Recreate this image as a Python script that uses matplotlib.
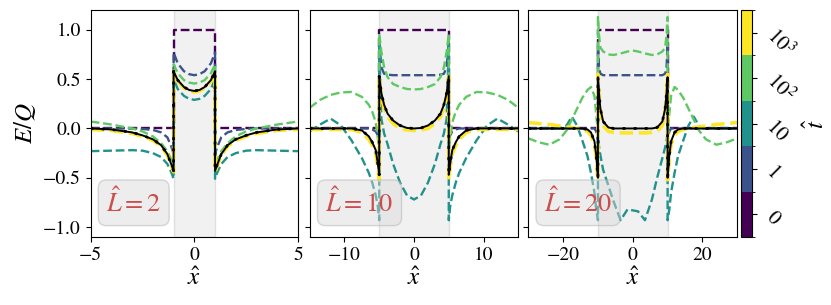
import numpy as np
import matplotlib
matplotlib.use("Agg")
import matplotlib.pyplot as plt
from matplotlib.colors import ListedColormap, BoundaryNorm
from matplotlib.cm import ScalarMappable

plt.rcParams["font.family"] = "STIXGeneral"
plt.rcParams["mathtext.fontset"] = "stix"

# time labels for the colorbar
t_labels = ["$0$", "$1$", "$10$", "$10^2$", "$10^3$"]

# ---- panel L=2 ----
L1 = 2
x1 = [-5, -4, -3, -2.5, -2, -1.6, -1.3, -1.1, -1,
      -1, -0.8, -0.5, -0.25, 0, 0.25, 0.5, 0.8, 1,
      1, 1.1, 1.3, 1.6, 2, 2.5, 3, 4, 5]
p1_t0 = [0, 0, 0, 0, 0, 0, 0, 0, 0,
         1, 1, 1, 1, 1, 1, 1, 1, 1,
         0, 0, 0, 0, 0, 0, 0, 0, 0]
p1_t1 = [0, 0, 0, -0.005, -0.015, -0.04, -0.09, -0.19, -0.26,
         0.77, 0.66, 0.58, 0.55, 0.54, 0.55, 0.58, 0.66, 0.77,
         -0.26, -0.19, -0.09, -0.04, -0.015, -0.005, 0, 0, 0]
p1_t10 = [-0.23, -0.225, -0.22, -0.225, -0.25, -0.29, -0.36, -0.45, -0.51,
          0.50, 0.40, 0.33, 0.30, 0.29, 0.30, 0.33, 0.40, 0.50,
          -0.51, -0.45, -0.36, -0.29, -0.25, -0.225, -0.22, -0.225, -0.23]
p1_t100 = [0.07, 0.04, 0.0, -0.03, -0.08, -0.15, -0.23, -0.32, -0.37,
           0.65, 0.56, 0.49, 0.465, 0.455, 0.465, 0.49, 0.56, 0.65,
           -0.37, -0.32, -0.23, -0.15, -0.08, -0.03, 0.0, 0.04, 0.07]
p1_t1000 = [-0.01, -0.02, -0.05, -0.08, -0.12, -0.18, -0.27, -0.38, -0.44,
            0.57, 0.48, 0.41, 0.38, 0.37, 0.38, 0.41, 0.48, 0.57,
            -0.44, -0.38, -0.27, -0.18, -0.12, -0.08, -0.05, -0.02, -0.01]
p1_ss = [0.0, -0.01, -0.04, -0.07, -0.11, -0.17, -0.26, -0.37, -0.43,
         0.58, 0.49, 0.42, 0.39, 0.38, 0.39, 0.42, 0.49, 0.58,
         -0.43, -0.37, -0.26, -0.17, -0.11, -0.07, -0.04, -0.01, 0.0]

# ---- panel L=10 ----
L2 = 10
x2 = [-15, -13.5, -12, -10.5, -9, -7.5, -6.5, -6, -5.5, -5.2, -5,
      -5, -4.7, -4.3, -3.8, -3, -2, -1, 0, 1, 2, 3, 3.8, 4.3, 4.7, 5,
      5, 5.2, 5.5, 6, 6.5, 7.5, 9, 10.5, 12, 13.5, 15]
p2_t0 = [0, 0, 0, 0, 0, 0, 0, 0, 0, 0, 0,
         1, 1, 1, 1, 1, 1, 1, 1, 1, 1, 1, 1, 1, 1, 1,
         0, 0, 0, 0, 0, 0, 0, 0, 0, 0, 0]
p2_t1 = [0, 0, 0, 0, 0, 0, 0, -0.01, -0.03, -0.07, -0.12,
         0.88, 0.62, 0.555, 0.545, 0.54, 0.54, 0.54, 0.54, 0.54, 0.54, 0.54, 0.545, 0.555, 0.62, 0.88,
         -0.12, -0.07, -0.03, -0.01, 0, 0, 0, 0, 0, 0, 0]
p2_t10 = [-0.03, 0.04, 0.10, 0.03, -0.12, -0.30, -0.45, -0.55, -0.68, -0.79, -0.93,
          0.85, 0.10, -0.05, -0.16, -0.36, -0.55, -0.68, -0.72, -0.68, -0.55, -0.36, -0.16, -0.05, 0.10, 0.85,
          -0.93, -0.79, -0.68, -0.55, -0.45, -0.30, -0.12, 0.03, 0.10, 0.04, -0.03]
p2_t100 = [0.21, 0.29, 0.34, 0.365, 0.37, 0.32, 0.24, 0.17, 0.06, -0.10, -0.25,
           0.96, 0.78, 0.62, 0.52, 0.45, 0.42, 0.40, 0.395, 0.40, 0.42, 0.45, 0.52, 0.62, 0.78, 0.96,
           -0.25, -0.10, 0.06, 0.17, 0.24, 0.32, 0.37, 0.365, 0.34, 0.29, 0.21]
p2_t1000 = [-0.01, -0.01, -0.01, -0.01, -0.01, -0.04, -0.11, -0.17, -0.26, -0.39, -0.52,
            0.52, 0.33, 0.21, 0.12, 0.05, 0.0, -0.015, -0.02, -0.015, 0.0, 0.05, 0.12, 0.21, 0.33, 0.52,
            -0.52, -0.39, -0.26, -0.17, -0.11, -0.04, -0.01, -0.01, -0.01, -0.01, -0.01]
p2_ss = [0, 0, 0, 0, 0, -0.02, -0.08, -0.14, -0.22, -0.36, -0.47,
         0.53, 0.36, 0.24, 0.15, 0.08, 0.03, 0.005, 0.0, 0.005, 0.03, 0.08, 0.15, 0.24, 0.36, 0.53,
         -0.47, -0.36, -0.22, -0.14, -0.08, -0.02, 0, 0, 0, 0, 0]

# ---- panel L=20 ----
L3 = 20
x3 = [-30, -27, -24, -21, -19, -17.5, -16, -14.5, -13, -12, -11, -10.5, -10,
      -10, -9.7, -9.3, -8.5, -7, -5.5, -3.5, -1.5, 0, 1.5, 3.5, 5.5, 7, 8.5, 9.3, 9.7, 10,
      10, 10.5, 11, 12, 13, 14.5, 16, 17.5, 19, 21, 24, 27, 30]
p3_t0 = [0, 0, 0, 0, 0, 0, 0, 0, 0, 0, 0, 0, 0,
         1, 1, 1, 1, 1, 1, 1, 1, 1, 1, 1, 1, 1, 1, 1, 1, 1,
         0, 0, 0, 0, 0, 0, 0, 0, 0, 0, 0, 0, 0]
p3_t1 = [0, 0, 0, 0, 0, 0, 0, 0, 0, 0, 0, -0.03, -0.12,
         0.85, 0.62, 0.555, 0.54, 0.54, 0.54, 0.54, 0.54, 0.54, 0.54, 0.54, 0.54, 0.54, 0.54, 0.555, 0.62, 0.85,
         -0.12, -0.03, 0, 0, 0, 0, 0, 0, 0, 0, 0, 0, 0]
p3_t10 = [0, 0, 0, 0, 0.03, 0.12, 0.03, -0.12, -0.28, -0.45, -0.65, -0.82, -0.93,
          -0.05, -0.18, -0.27, -0.42, -0.58, -0.74, -0.93, -0.82, -0.83, -0.84, -0.93, -0.72, -0.50, -0.30, -0.19, -0.12, -0.05,
          -0.93, -0.82, -0.65, -0.45, -0.28, -0.12, 0.03, 0.12, 0.03, 0, 0, 0, 0]
p3_t100 = [-0.10, -0.14, -0.165, -0.11, -0.02, 0.09, 0.20, 0.31, 0.39, 0.42, 0.33, 0.15, -0.05,
           1.13, 0.95, 0.82, 0.78, 0.75, 0.745, 0.76, 0.78, 0.79, 0.78, 0.76, 0.745, 0.75, 0.78, 0.82, 0.95, 1.13,
           -0.05, 0.15, 0.33, 0.42, 0.39, 0.31, 0.20, 0.09, -0.02, -0.11, -0.165, -0.14, -0.10]
p3_t1000 = [0.06, 0.05, 0.04, 0.025, 0.015, 0.01, 0.0, -0.01, -0.03, -0.07, -0.16, -0.30, -0.52,
            0.55, 0.35, 0.18, 0.03, -0.03, -0.04, -0.045, -0.045, -0.045, -0.045, -0.045, -0.04, -0.03, 0.03, 0.18, 0.35, 0.55,
            -0.52, -0.30, -0.16, -0.07, -0.03, -0.01, 0.0, 0.01, 0.015, 0.025, 0.04, 0.05, 0.06]
p3_ss = [0, 0, 0, 0, 0, 0, 0, 0, -0.01, -0.04, -0.13, -0.27, -0.50,
         0.52, 0.36, 0.20, 0.07, 0.01, 0, 0, 0, 0, 0, 0, 0, 0.01, 0.07, 0.20, 0.36, 0.52,
         -0.50, -0.27, -0.13, -0.04, -0.01, 0, 0, 0, 0, 0, 0, 0, 0]

panels = [
    (L1, x1, [p1_t0, p1_t1, p1_t10, p1_t100, p1_t1000], p1_ss, (-5, 5), [-5, 0, 5]),
    (L2, x2, [p2_t0, p2_t1, p2_t10, p2_t100, p2_t1000], p2_ss, (-15, 15), [-10, 0, 10]),
    (L3, x3, [p3_t0, p3_t1, p3_t10, p3_t100, p3_t1000], p3_ss, (-30, 30), [-20, 0, 20]),
]

colors = plt.cm.viridis(np.linspace(0, 1, 5))

fig = plt.figure(figsize=(8.31, 3.05), dpi=100)
lefts = [0.1091, 0.3727, 0.6357]
widths = [0.2495, 0.2510, 0.2515]
bottom, height = 0.223, 0.744

for i, (L, x, curves, ss, xlim, xticks) in enumerate(panels):
    ax = fig.add_axes([lefts[i], bottom, widths[i], height])
    ax.axvspan(-L / 2, L / 2, facecolor=(0.85, 0.85, 0.85, 0.35),
               edgecolor=(0.6, 0.6, 0.6, 0.25), lw=1, zorder=0)
    for k, y in enumerate(curves):
        lw = 2.6 if k == 4 else 1.7
        ax.plot(x, y, "--", color=colors[k], lw=lw, zorder=2)
    # steady state: solid line with sparse dots on top
    ax.plot(x, ss, "-", color="black", lw=1.4, zorder=3)
    ax.plot(x, ss, linestyle=(0, (1, 3)), color="black", lw=2.0, zorder=4)
    ax.set_xlim(*xlim)
    ax.set_ylim(-1.1, 1.2)
    ax.set_xticks(xticks)
    ax.set_yticks([-1.0, -0.5, 0.0, 0.5, 1.0])
    ax.tick_params(labelsize=14)
    ax.set_xlabel(r"$\hat{x}$", fontsize=18, labelpad=2)
    if i == 0:
        ax.set_ylabel(r"$E/Q$", fontsize=18, labelpad=4)
    else:
        ax.set_yticklabels([])
    ax.text(0.075, 0.085, r"$\hat{L}=%d$" % L, transform=ax.transAxes,
            fontsize=19, color="#cc4d4d", ha="left", va="bottom", zorder=6,
            bbox=dict(boxstyle="round,pad=0.3", facecolor=(0.85, 0.85, 0.85, 0.45),
                      edgecolor=(0.7, 0.7, 0.7, 0.5)))

cax = fig.add_axes([0.8917, bottom, 0.0138, height])
cmap = ListedColormap(colors)
norm = BoundaryNorm([0, 1, 2, 3, 4, 5], cmap.N)
cbar = fig.colorbar(ScalarMappable(norm=norm, cmap=cmap), cax=cax,
                    ticks=[0.5, 1.5, 2.5, 3.5, 4.5])
cbar.set_ticklabels(t_labels)
cbar.ax.tick_params(labelsize=15)
for lab in cbar.ax.get_yticklabels():
    lab.set_rotation(-45)
cbar.set_label(r"$\hat{t}$", fontsize=18)

plt.savefig("out.png", dpi=100)
